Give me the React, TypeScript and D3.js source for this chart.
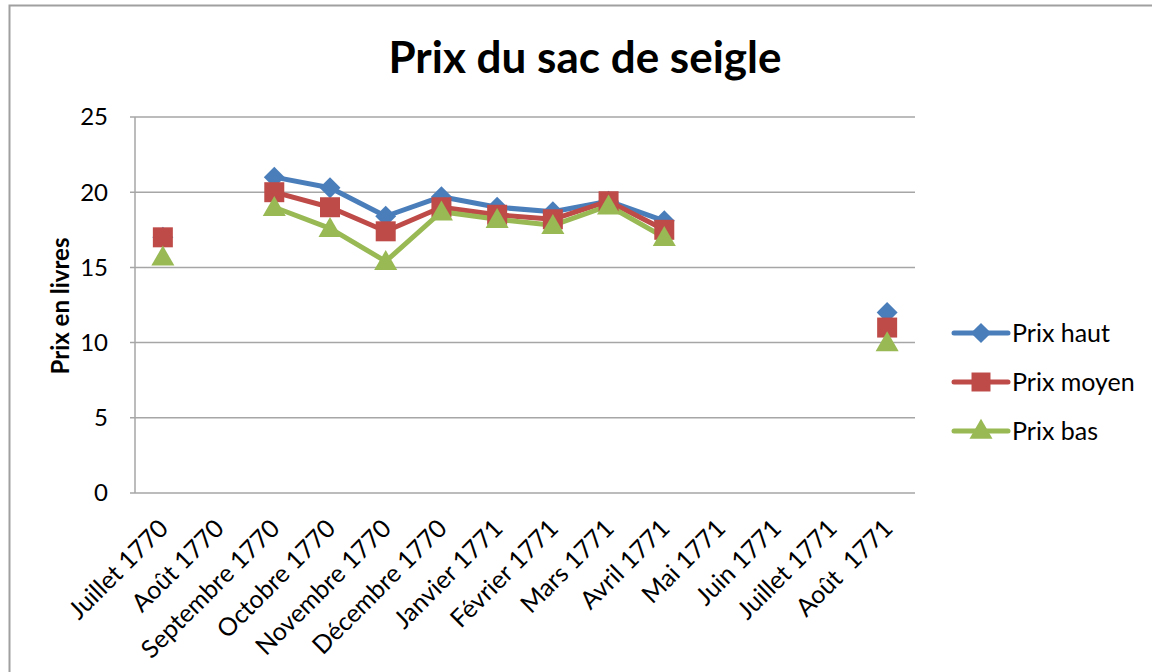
import * as d3 from "d3";
import { useEffect, useRef } from "react";

const months = [
  "Juillet 1770", "Août 1770", "Septembre 1770", "Octobre 1770", "Novembre 1770",
  "Décembre 1770", "Janvier 1771", "Février 1771", "Mars 1771", "Avril 1771",
  "Mai 1771", "Juin 1771", "Juillet 1771", "Août  1771",
];
// null = no value for that month
const prixHaut = [17, null, 21, 20.3, 18.4, 19.7, 19.0, 18.7, 19.4, 18.1, null, null, null, 12];
const prixMoyen = [17, null, 20, 19, 17.4, 19, 18.5, 18.2, 19.4, 17.5, null, null, null, 11];
const prixBas = [15.7, null, 19, 17.6, 15.4, 18.7, 18.2, 17.8, 19.1, 17, null, null, null, 10];
const seriesNames = ["Prix haut", "Prix moyen", "Prix bas"];
const yTicks = [0, 5, 10, 15, 20, 25];

const colors = ["#4A7EBB", "#BE4B48", "#98B954"];
const shapes = [d3.symbolDiamond2, d3.symbolSquare, d3.symbolTriangle];
const font = "Lato, 'Open Sans', sans-serif";

const App = () => {
  const ref = useRef<SVGSVGElement>(null);

  useEffect(() => {
    const W = 1152, H = 672;
    const margin = { top: 117, right: 237, bottom: 179, left: 135 };
    const width = W - margin.left - margin.right,
      height = H - margin.top - margin.bottom;

    const root = d3.select(ref.current);
    root.selectAll("*").remove();

    // outer frame
    root.append("rect")
      .attr("x", 9.5).attr("y", 5.5)
      .attr("width", W + 20).attr("height", H + 20)
      .attr("fill", "white").attr("stroke", "#a0a0a0").attr("stroke-width", 2);

    // title
    root.append("text")
      .attr("x", 585).attr("y", 73)
      .attr("text-anchor", "middle")
      .style("font-family", font).style("font-weight", "bold").style("font-size", "44px")
      .text("Prix du sac de seigle");

    const svg = root.append("g").attr("transform", `translate(${margin.left},${margin.top})`);

    const x = d3.scaleBand().domain(months).range([0, width]);
    const y = d3.scaleLinear().domain([0, 25]).range([height, 0]);
    const cx = (i: number) => (x(months[i]) as number) + x.bandwidth() / 2;

    // gridlines
    svg.append("g")
      .selectAll("line")
      .data(yTicks)
      .join("line")
      .attr("x1", -5).attr("x2", width)
      .attr("y1", (d) => y(d)).attr("y2", (d) => y(d))
      .attr("stroke", "#a6a6a6").attr("stroke-width", 1.5);
    svg.append("line")
      .attr("x1", 0).attr("x2", 0).attr("y1", 0).attr("y2", height)
      .attr("stroke", "#a6a6a6").attr("stroke-width", 1.5);

    // y tick labels
    svg.append("g")
      .selectAll("text")
      .data(yTicks)
      .join("text")
      .attr("x", -27).attr("y", (d) => y(d))
      .attr("dy", "0.35em")
      .attr("text-anchor", "end")
      .style("font-family", font).style("font-size", "24px")
      .text((d) => d);

    // y title
    root.append("text")
      .attr("transform", `translate(69,${margin.top + height / 2 + 1}) rotate(-90)`)
      .attr("text-anchor", "middle")
      .style("font-family", font).style("font-weight", "bold").style("font-size", "24px")
      .text("Prix en livres");

    // x labels
    svg.append("g")
      .selectAll("text")
      .data(months)
      .join("text")
      .attr("transform", (d, i) => `translate(${cx(i) + 7},${height + 37}) rotate(-45)`)
      .attr("text-anchor", "end")
      .style("font-family", font).style("font-size", "25px")
      .style("white-space", "pre")
      .text((d) => d);

    // series
    const allSeries = [prixHaut, prixMoyen, prixBas];
    const line = d3.line<number | null>()
      .defined((d) => d !== null)
      .x((d, i) => cx(i))
      .y((d) => y(d as number));

    allSeries.forEach((values, s) => {
      svg.append("path")
        .datum(values)
        .attr("d", line)
        .attr("fill", "none")
        .attr("stroke", colors[s])
        .attr("stroke-width", 5)
        .attr("stroke-linejoin", "round");
    });
    allSeries.forEach((values, s) => {
      const sym = d3.symbol().type(shapes[s]).size(s === 2 ? 230 : s === 1 ? 400 : 280);
      svg.append("g")
        .selectAll("path")
        .data(values.map((v, i) => ({ v, i })).filter((d) => d.v !== null))
        .join("path")
        .attr("d", sym)
        .attr("transform", (d) => `translate(${cx(d.i)},${y(d.v as number) + (s === 2 ? 2 : 0)})`)
        .attr("fill", colors[s]);
    });

    // legend
    const legend = root.append("g");
    seriesNames.forEach((name, s) => {
      const ly = 333 + s * 49;
      legend.append("line")
        .attr("x1", 954).attr("x2", 1008).attr("y1", ly).attr("y2", ly)
        .attr("stroke", colors[s]).attr("stroke-width", 5).attr("stroke-linecap", "round");
      const sym = d3.symbol().type(shapes[s]).size(s === 2 ? 230 : s === 1 ? 360 : 260);
      legend.append("path")
        .attr("d", sym)
        .attr("transform", `translate(981,${ly + (s === 2 ? 1 : 0)})`)
        .attr("fill", colors[s]);
      legend.append("text")
        .attr("x", 1012).attr("y", ly)
        .attr("dy", "0.35em")
        .style("font-family", font).style("font-size", "25px")
        .text(name);
    });
  }, []);

  return (
    <svg
      ref={ref}
      width={1152}
      height={672}
      style={{ position: "absolute", left: 0, top: 0, background: "white" }}
    />
  );
};

export default App;
